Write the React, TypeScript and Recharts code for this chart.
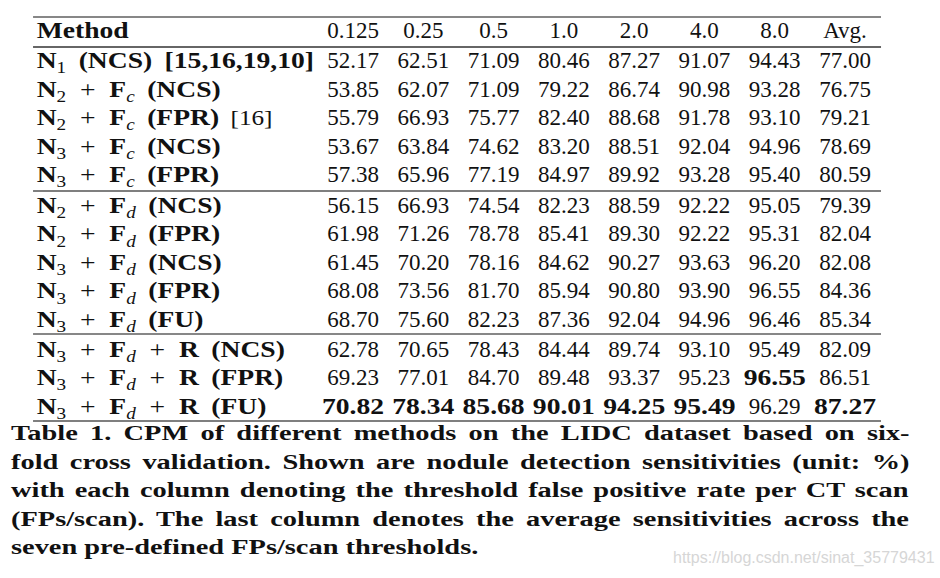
import { ScatterChart, Scatter, XAxis, YAxis, ReferenceLine } from 'recharts'

// column headers (FPs/scan thresholds + average)
const thresholds = ['0.125', '0.25', '0.5', '1.0', '2.0', '4.0', '8.0', 'Avg.']

// method description per row
const netIndex = ['1', '2', '2', '3', '3', '2', '2', '3', '3', '3', '3', '3', '3']
const fusion = ['', 'c', 'c', 'c', 'c', 'd', 'd', 'd', 'd', 'd', 'd', 'd', 'd']
const refine = [false, false, false, false, false, false, false, false, false, false, true, true, true]
const mode = ['NCS', 'NCS', 'FPR', 'NCS', 'FPR', 'NCS', 'FPR', 'NCS', 'FPR', 'FU', 'NCS', 'FPR', 'FU']
const refs = ['[15,16,19,10]', '', '[16]', '', '', '', '', '', '', '', '', '', '']
const refBold = [true, false, false, false, false, false, false, false, false, false, false, false, false]
const rowGroup = [0, 0, 0, 0, 0, 1, 1, 1, 1, 1, 2, 2, 2]

// sensitivities (%) per threshold column
const cpm0125 = [52.17, 53.85, 55.79, 53.67, 57.38, 56.15, 61.98, 61.45, 68.08, 68.70, 62.78, 69.23, 70.82]
const cpm025 = [62.51, 62.07, 66.93, 63.84, 65.96, 66.93, 71.26, 70.20, 73.56, 75.60, 70.65, 77.01, 78.34]
const cpm05 = [71.09, 71.09, 75.77, 74.62, 77.19, 74.54, 78.78, 78.16, 81.70, 82.23, 78.43, 84.70, 85.68]
const cpm1 = [80.46, 79.22, 82.40, 83.20, 84.97, 82.23, 85.41, 84.62, 85.94, 87.36, 84.44, 89.48, 90.01]
const cpm2 = [87.27, 86.74, 88.68, 88.51, 89.92, 88.59, 89.30, 90.27, 90.80, 92.04, 89.74, 93.37, 94.25]
const cpm4 = [91.07, 90.98, 91.78, 92.04, 93.28, 92.22, 92.22, 93.63, 93.90, 94.96, 93.10, 95.23, 95.49]
const cpm8 = [94.43, 93.28, 93.10, 94.96, 95.40, 95.05, 95.31, 96.20, 96.55, 96.46, 95.49, 96.55, 96.29]
const cpmAvg = [77.00, 76.75, 79.21, 78.69, 80.59, 79.39, 82.04, 82.08, 84.36, 85.34, 82.09, 86.51, 87.27]

const columns = [cpm0125, cpm025, cpm05, cpm1, cpm2, cpm4, cpm8, cpmAvg]

const caption = [
  'Table 1. CPM of different methods on the LIDC dataset based on six-',
  'fold cross validation. Shown are nodule detection sensitivities (unit: %)',
  'with each column denoting the threshold false positive rate per CT scan',
  '(FPs/scan). The last column denotes the average sensitivities across the',
  'seven pre-defined FPs/scan thresholds.',
]
const watermark = 'https://blog.csdn.net/sinat_35779431'

// layout
const W = 940
const H = 430
const PAGE_H = 578
const X_DOMAIN = [-4.022, 9.351]
const Y_DOMAIN = [-1.3333, 13.754]
const METHOD_X = -3.5
const GROUP_GAP = [0.053, 0.14, 0.19]
const RULE_X = [-3.552, 8.512]
const RULES = [
  { y: -0.737, w: 1.2, c: '#111' },
  { y: 0.316, w: 2.2, c: '#666' },
  { y: 5.368, w: 1.5, c: '#555' },
  { y: 10.386, w: 1.2, c: '#111' },
  { y: 13.44, w: 1.5, c: '#555' },
]
const INK = '#111'
const SERIF = '"Liberation Serif", serif'
const SUB_DROP = 5
const BOLD_STRETCH = 1.2 // mimic the extended bold face
const GAP = ' \u2009' // wider interword gap, as in the typeset table
const CAPTION_LEFT = 11
const CAPTION_WIDTH = 899
const CAPTION_TOP = 440
const CAPTION_LEAD = 28.5
const CAPTION_SIZE = 20
const CAPTION_STRETCH = 1.42
const CAPTION_SVG_TOP = 400

const rowY = (i: number) => i + 1 + GROUP_GAP[rowGroup[i]]
const lastGroup = Math.max(...rowGroup)

let measureCtx: CanvasRenderingContext2D | null = null
const measure = (text: string) => {
  if (!measureCtx) measureCtx = document.createElement('canvas').getContext('2d')
  if (!measureCtx) return text.length * CAPTION_SIZE * 0.45
  measureCtx.font = `bold ${CAPTION_SIZE}px "Liberation Serif"`
  return measureCtx.measureText(text).width
}

type Piece = { t: string; f: 'b' | 'n' | 'op' | 'sub' | 'subi' }

const methodPieces = (i: number): Piece[] => {
  const out: Piece[] = [{ t: 'N', f: 'b' }, { t: netIndex[i], f: 'sub' }]
  if (fusion[i]) out.push({ t: '\u2002+\u2002', f: 'op' }, { t: 'F', f: 'b' }, { t: fusion[i], f: 'subi' })
  if (refine[i]) out.push({ t: '\u2002+\u2002', f: 'op' }, { t: 'R', f: 'b' })
  out.push({ t: `${GAP}(${mode[i]})`, f: 'b' })
  if (refs[i]) out.push({ t: GAP + refs[i], f: refBold[i] ? 'b' : 'n' })
  return out
}

const methodData = [
  { x: METHOD_X, y: 0, header: true, label: 'Method' },
  ...netIndex.map((_, i) => ({ x: METHOD_X, y: rowY(i), header: false, pieces: methodPieces(i) })),
]

const columnData = columns.map((vals, j) => {
  const groupMax = Math.max(...vals.filter((_, i) => rowGroup[i] === lastGroup))
  return [
    { x: j + 1, y: 0, label: thresholds[j], bold: false },
    ...vals.map((v, i) => ({
      x: j + 1,
      y: rowY(i),
      label: v.toFixed(2),
      bold: rowGroup[i] === lastGroup && v === groupMax,
    })),
  ]
})

const pieceStyle = (f: Piece['f']) => {
  switch (f) {
    case 'b': return { fontWeight: 700, fontSize: 23 }
    case 'n': return { fontWeight: 400, fontSize: 21 }
    case 'op': return { fontWeight: 400, fontSize: 23 }
    case 'sub': return { fontWeight: 400, fontSize: 16 }
    case 'subi': return { fontWeight: 400, fontSize: 16, fontStyle: 'italic' }
  }
}

function MethodCell(props: any) {
  const { cx, cy, payload } = props
  const tf = `translate(${cx} ${cy}) scale(${BOLD_STRETCH} 1)`
  if (payload.header) {
    return (
      <text transform={tf} x={0} y={0} fontFamily={SERIF} fontWeight={700} fontSize={23} fill={INK}>{payload.label}</text>
    )
  }
  let shift = 0
  return (
    <text transform={tf} x={0} y={0} fill={INK} fontFamily={SERIF} style={{ whiteSpace: 'pre' }}>
      {payload.pieces.map((p: Piece, k: number) => {
        const target = p.f === 'sub' || p.f === 'subi' ? SUB_DROP : 0
        const dy = target - shift
        shift = target
        return <tspan key={k} dy={dy} {...pieceStyle(p.f)}>{p.t}</tspan>
      })}
    </text>
  )
}

function NumberCell(props: any) {
  const { cx, cy, payload } = props
  if (payload.bold) {
    return (
      <text transform={`translate(${cx} ${cy}) scale(${BOLD_STRETCH} 1)`} x={0} y={0} textAnchor="middle"
        fill={INK} fontFamily={SERIF} fontWeight={700} fontSize={23}>
        {payload.label}
      </text>
    )
  }
  return (
    <text x={cx} y={cy} textAnchor="middle" fill={INK} fontFamily={SERIF} fontSize={23}>
      {payload.label}
    </text>
  )
}

function CaptionLine({ line, k, last }: { line: string; k: number; last: boolean }) {
  const y = CAPTION_TOP + k * CAPTION_LEAD - CAPTION_SVG_TOP
  const natural = measure(line)
  let stretch = CAPTION_STRETCH
  let wordSpacing = 0
  if (!last) {
    // justify: stretch glyphs like the extended face, then spread words
    stretch = Math.min(CAPTION_STRETCH, CAPTION_WIDTH / natural)
    const spaces = line.split(' ').length - 1
    wordSpacing = spaces ? (CAPTION_WIDTH / stretch - natural) / spaces : 0
  }
  return (
    <text transform={`translate(${CAPTION_LEFT} ${y}) scale(${stretch} 1)`} x={0} y={0}
      fontFamily={SERIF} fontWeight={700} fontSize={CAPTION_SIZE} fill={INK}
      style={{ whiteSpace: 'pre', wordSpacing }}>
      {line}
    </text>
  )
}

export default function App() {
  return (
    <div style={{ position: 'absolute', left: 0, top: 0, width: W, height: PAGE_H, background: '#fff' }}>
      <ScatterChart width={W} height={H} margin={{ top: 0, right: 0, bottom: 0, left: 0 }}>
        <XAxis type="number" dataKey="x" domain={X_DOMAIN} allowDataOverflow hide />
        <YAxis type="number" dataKey="y" domain={Y_DOMAIN} allowDataOverflow reversed hide />
        {RULES.map((r, k) => (
          <ReferenceLine key={k} ifOverflow="visible" stroke={r.c} strokeWidth={r.w}
            segment={[{ x: RULE_X[0], y: r.y }, { x: RULE_X[1], y: r.y }]} />
        ))}
        <Scatter data={methodData} shape={MethodCell} isAnimationActive={false} />
        {columnData.map((d, j) => (
          <Scatter key={j} data={d} shape={NumberCell} isAnimationActive={false} />
        ))}
      </ScatterChart>
      <svg width={W} height={PAGE_H - CAPTION_SVG_TOP}
        style={{ position: 'absolute', left: 0, top: CAPTION_SVG_TOP, pointerEvents: 'none' }}>
        {caption.map((line, k) => (
          <CaptionLine key={k} line={line} k={k} last={k === caption.length - 1} />
        ))}
        <text x={673} y={563 - CAPTION_SVG_TOP} fontFamily='"Liberation Sans", sans-serif' fontSize={16} fill="#d6d6d6">
          {watermark}
        </text>
      </svg>
    </div>
  )
}
